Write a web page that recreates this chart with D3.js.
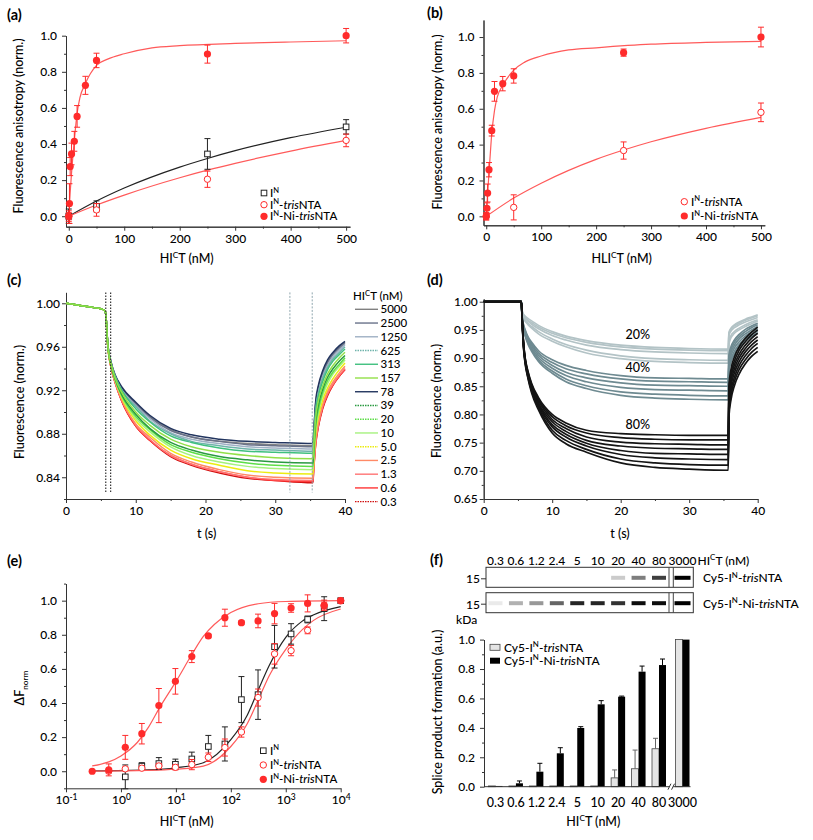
<!DOCTYPE html>
<html><head><meta charset="utf-8">
<script src="https://cdn.jsdelivr.net/npm/d3@7"></script>
<style>
body{margin:0;background:#fff}
svg text{font-family:Lato,"Open Sans",sans-serif;font-weight:500}
</style>
</head><body>
<svg id="fig" width="813" height="840"></svg>
<script>
// ---------------- DATA ----------------
// (a)
const aX_IN = [0, 50, 250, 500];
const aY_IN = [0.0, 0.055, 0.345, 0.495];
const aE_IN = [0.04, 0.03, 0.085, 0.04];
const aX_tris = [0, 50, 250, 500];
const aY_tris = [0.0, 0.035, 0.205, 0.42];
const aE_tris = [0.02, 0.035, 0.045, 0.035];
const aX_Ni = [0, 1.25, 2.5, 5, 10, 15, 30, 50, 250, 500];
const aY_Ni = [0.0, 0.07, 0.275, 0.345, 0.415, 0.553, 0.725, 0.863, 0.898, 1.0];
const aE_Ni = [0.03, 0.11, 0.05, 0.06, 0.055, 0.06, 0.05, 0.04, 0.05, 0.04];
const aFitNiX = [0, 2.5, 5, 10, 15, 20, 30, 50, 70, 100, 150, 200, 300, 400, 500];
const aFitNiY = [0, 0.13, 0.24, 0.42, 0.57, 0.655, 0.736, 0.836, 0.87, 0.90, 0.933, 0.945, 0.957, 0.965, 0.972];
const aFitX = [0, 50, 100, 200, 250, 300, 400, 500];
const aFitIN = [0, 0.084, 0.156, 0.272, 0.32, 0.363, 0.435, 0.493];
const aFitTris = [0, 0.062, 0.117, 0.213, 0.255, 0.293, 0.361, 0.42];
// (b)
const bX_tris = [0, 50, 250, 500];
const bY_tris = [0.0, 0.05, 0.367, 0.58];
const bE_tris = [0.02, 0.07, 0.048, 0.052];
const bX_Ni = [0, 1.25, 2.5, 5, 10, 15, 30, 50, 250, 500];
const bY_Ni = [0.0, 0.045, 0.13, 0.26, 0.478, 0.697, 0.74, 0.783, 0.913, 1.0];
const bE_Ni = [0.02, 0.03, 0.05, 0.04, 0.03, 0.055, 0.04, 0.04, 0.02, 0.055];
const bFitNiX = [0, 2.5, 5, 10, 15, 20, 30, 50, 70, 100, 150, 200, 300, 400, 500];
const bFitNiY = [0, 0.13, 0.24, 0.46, 0.59, 0.665, 0.73, 0.815, 0.86, 0.894, 0.928, 0.94, 0.96, 0.97, 0.976];
const bFitX = [0, 50, 100, 200, 250, 300, 400, 500];
const bFitTris = [0, 0.102, 0.185, 0.318, 0.37, 0.416, 0.491, 0.552];
// (c)
const cConc = ["5000","2500","1250","625","313","157","78","39","20","10","5.0","2.5","1.3","0.6","0.3"];
const cColors = ["#808080","#69728a","#9fb0c4","#6fb3ab","#3fc07e","#92e048","#22355f","#2a9a40","#5ede48","#a6f27e","#ecec10","#ff8a66","#ff7474","#ff3636","#d01010"];
const cDashed = [false,false,false,true,false,false,false,true,true,false,true,false,false,false,true];
const cDrawOrder = [14, 13, 12, 11, 0, 1, 2, 6, 3, 4, 10, 9, 8, 7, 5];
const cPreT = [0, 1, 2, 3, 4, 5, 5.6];
const cPreV = [1.000, 0.999, 0.998, 0.997, 0.996, 0.995, 0.993];
const cDecT = [5.7, 6.0, 6.5, 7, 8, 10, 12, 15, 18, 22, 26, 30, 35.4];
const cRiseT = [35.5, 35.8, 36.2, 36.8, 37.5, 38.3, 39.2, 40];
const cDecay = [
 [0.990,0.962,0.945,0.934,0.922,0.908,0.896,0.884,0.877,0.873,0.871,0.870,0.869],
 [0.990,0.962,0.944,0.934,0.922,0.907,0.895,0.883,0.877,0.873,0.870,0.869,0.868],
 [0.990,0.962,0.944,0.934,0.921,0.906,0.894,0.881,0.875,0.871,0.868,0.867,0.866],
 [0.990,0.962,0.944,0.934,0.920,0.905,0.892,0.880,0.873,0.869,0.866,0.865,0.864],
 [0.990,0.961,0.944,0.933,0.920,0.903,0.891,0.878,0.872,0.867,0.864,0.863,0.862],
 [0.990,0.961,0.943,0.932,0.918,0.900,0.888,0.875,0.868,0.863,0.860,0.858,0.857],
 [0.990,0.962,0.945,0.935,0.923,0.909,0.897,0.885,0.879,0.875,0.873,0.872,0.871],
 [0.990,0.961,0.942,0.931,0.916,0.898,0.885,0.872,0.865,0.859,0.856,0.854,0.853],
 [0.990,0.961,0.942,0.931,0.915,0.896,0.884,0.870,0.863,0.857,0.853,0.851,0.850],
 [0.990,0.961,0.942,0.930,0.914,0.894,0.882,0.868,0.860,0.854,0.850,0.848,0.847],
 [0.990,0.960,0.941,0.930,0.913,0.892,0.879,0.865,0.857,0.851,0.846,0.844,0.843],
 [0.990,0.960,0.941,0.929,0.911,0.889,0.877,0.862,0.854,0.847,0.842,0.840,0.839],
 [0.990,0.960,0.940,0.928,0.911,0.888,0.875,0.860,0.852,0.845,0.840,0.838,0.837],
 [0.990,0.960,0.940,0.928,0.910,0.887,0.874,0.860,0.852,0.845,0.840,0.837,0.836],
 [0.990,0.960,0.940,0.928,0.910,0.887,0.874,0.859,0.851,0.844,0.839,0.837,0.835]
];
const cRise = [
 [0.879,0.908,0.923,0.936,0.946,0.954,0.960,0.964],
 [0.878,0.907,0.922,0.935,0.945,0.953,0.959,0.963],
 [0.876,0.905,0.920,0.933,0.943,0.951,0.957,0.962],
 [0.874,0.903,0.918,0.931,0.941,0.949,0.955,0.960],
 [0.872,0.900,0.915,0.928,0.939,0.947,0.953,0.958],
 [0.867,0.895,0.911,0.924,0.935,0.943,0.950,0.955],
 [0.880,0.910,0.925,0.938,0.948,0.955,0.961,0.965],
 [0.863,0.891,0.907,0.921,0.932,0.940,0.947,0.952],
 [0.860,0.887,0.903,0.918,0.929,0.937,0.944,0.950],
 [0.857,0.884,0.900,0.915,0.926,0.935,0.942,0.948],
 [0.853,0.880,0.896,0.911,0.922,0.931,0.939,0.945],
 [0.849,0.875,0.891,0.907,0.919,0.928,0.936,0.942],
 [0.847,0.872,0.889,0.905,0.917,0.926,0.934,0.940],
 [0.846,0.871,0.888,0.904,0.916,0.925,0.933,0.939],
 [0.845,0.870,0.887,0.903,0.915,0.925,0.933,0.939]
];
const cMarksBlack = [5.7, 6.4];
const cMarksGrey = [32.1, 35.3];
// (d)
const dGroups = ["20%","40%","80%"];
const dColors = ["#b3c3c6","#6e8a91","#141414"];
const dPreT = [0, 5.5];
const dPreV = [1.0, 1.0];
const dDecT = [5.6, 5.8, 6.0, 6.5, 7, 8, 10, 12, 15, 20, 25, 30, 35.7];
const dRiseT = [35.8, 36.1, 36.6, 37.3, 38.2, 39.1, 40];
const d20Decay = [
 [0.985,0.978,0.975,0.970,0.966,0.958,0.947,0.939,0.931,0.923,0.919,0.917,0.916],
 [0.984,0.976,0.973,0.967,0.963,0.955,0.944,0.936,0.928,0.920,0.916,0.914,0.913],
 [0.983,0.974,0.971,0.965,0.960,0.952,0.940,0.932,0.923,0.915,0.911,0.909,0.908],
 [0.982,0.972,0.968,0.961,0.956,0.947,0.934,0.924,0.914,0.904,0.899,0.897,0.896],
 [0.981,0.970,0.966,0.959,0.953,0.943,0.930,0.920,0.909,0.899,0.894,0.892,0.891]];
const d20Rise = [
 [0.945,0.953,0.959,0.964,0.969,0.973,0.977],
 [0.943,0.951,0.957,0.962,0.967,0.971,0.975],
 [0.940,0.948,0.954,0.959,0.964,0.968,0.972],
 [0.930,0.940,0.947,0.953,0.959,0.964,0.968],
 [0.925,0.936,0.944,0.950,0.956,0.961,0.966]];
const d40Decay = [
 [0.975,0.960,0.952,0.937,0.928,0.913,0.897,0.887,0.878,0.869,0.865,0.864,0.863],
 [0.974,0.958,0.950,0.935,0.925,0.909,0.892,0.881,0.872,0.863,0.859,0.858,0.857],
 [0.973,0.956,0.948,0.932,0.922,0.905,0.887,0.875,0.865,0.856,0.852,0.851,0.850],
 [0.972,0.954,0.945,0.929,0.918,0.901,0.882,0.869,0.858,0.848,0.844,0.843,0.842],
 [0.971,0.952,0.943,0.926,0.915,0.897,0.877,0.863,0.851,0.840,0.836,0.834,0.833],
 [0.970,0.950,0.941,0.924,0.912,0.894,0.873,0.858,0.846,0.834,0.829,0.827,0.826]];
const d40Rise = [
 [0.905,0.920,0.932,0.942,0.951,0.957,0.962],
 [0.900,0.915,0.928,0.938,0.947,0.954,0.959],
 [0.894,0.910,0.923,0.934,0.943,0.950,0.956],
 [0.888,0.904,0.918,0.929,0.939,0.946,0.952],
 [0.882,0.898,0.912,0.924,0.934,0.942,0.948],
 [0.876,0.893,0.907,0.919,0.930,0.938,0.945]];
const d80Decay = [
 [0.975,0.930,0.905,0.875,0.855,0.830,0.800,0.785,0.772,0.766,0.764,0.763,0.763],
 [0.974,0.929,0.904,0.873,0.853,0.827,0.796,0.780,0.767,0.759,0.756,0.755,0.755],
 [0.973,0.928,0.902,0.871,0.850,0.824,0.791,0.775,0.760,0.751,0.748,0.747,0.746],
 [0.973,0.926,0.901,0.869,0.848,0.820,0.787,0.770,0.754,0.744,0.740,0.739,0.738],
 [0.972,0.925,0.900,0.868,0.846,0.818,0.782,0.765,0.749,0.736,0.731,0.730,0.729],
 [0.972,0.924,0.899,0.866,0.844,0.815,0.778,0.760,0.744,0.729,0.723,0.721,0.720],
 [0.971,0.922,0.897,0.864,0.841,0.812,0.772,0.754,0.738,0.721,0.714,0.711,0.710],
 [0.970,0.920,0.895,0.862,0.838,0.808,0.767,0.748,0.733,0.714,0.706,0.703,0.701]];
const d80Rise = [
 [0.850,0.880,0.902,0.920,0.935,0.946,0.955],
 [0.843,0.872,0.895,0.914,0.929,0.941,0.950],
 [0.835,0.865,0.888,0.907,0.923,0.935,0.944],
 [0.828,0.858,0.881,0.901,0.917,0.929,0.938],
 [0.820,0.850,0.874,0.894,0.911,0.923,0.932],
 [0.812,0.842,0.866,0.887,0.904,0.917,0.926],
 [0.804,0.834,0.859,0.880,0.897,0.910,0.919],
 [0.796,0.826,0.851,0.872,0.890,0.903,0.912]];
const dLabelT = [22.5, 22.5, 22.5];
const dLabelV = [0.942, 0.883, 0.782];
// (e)
const eX_Ni = [0.3, 0.6, 1.2, 2.4, 4.9, 9.8, 19.5, 39, 78, 156, 313, 625, 1250, 2500, 5000, 10000];
const eY_Ni = [0.0, 0.008, 0.14, 0.22, 0.385, 0.527, 0.672, 0.793, 0.9, 0.871, 0.881, 0.924, 0.957, 0.984, 0.971, 1.0];
const eE_Ni = [0, 0.035, 0.07, 0.06, 0.1, 0.075, 0.035, 0.01, 0.05, 0.01, 0.04, 0.06, 0.025, 0.05, 0.02, 0];
const eX_IN = [1.2, 2.4, 4.9, 9.8, 19.5, 39, 78, 156, 313, 625, 1250, 2500, 5000, 10000];
const eY_IN = [-0.033, 0.03, 0.045, 0.041, 0.072, 0.145, 0.16, 0.42, 0.449, 0.73, 0.805, 0.89, 0.953, 1.0];
const eE_IN = [0.07, 0.02, 0.035, 0.03, 0.04, 0.065, 0.1, 0.135, 0.145, 0.125, 0.06, 0.02, 0.07, 0];
const eX_tris = [0.6, 1.2, 2.4, 4.9, 9.8, 19.5, 39, 78, 156, 313, 625, 1250, 2500, 5000, 10000];
const eY_tris = [0.0, 0.014, 0.018, 0.031, 0.023, 0.039, 0.082, 0.139, 0.23, 0.432, 0.688, 0.707, 0.826, 0.973, 1.0];
const eE_tris = [0.01, 0.01, 0.01, 0.015, 0.015, 0.03, 0.025, 0.05, 0.03, 0.05, 0.06, 0.03, 0.02, 0.03, 0];
const eFitNiX = [0.3, 0.6, 1, 2, 3.2, 5, 10, 20, 31.6, 50, 100, 316, 1000, 10000];
const eFitNiY = [0.031, 0.055, 0.09, 0.17, 0.26, 0.37, 0.525, 0.69, 0.79, 0.86, 0.93, 0.982, 0.995, 1.0];
const eFitX = [0.3, 3, 10, 31.6, 100, 200, 316, 500, 1000, 2000, 3162, 10000];
const eFitIN = [0.002, 0.008, 0.02, 0.05, 0.185, 0.33, 0.477, 0.62, 0.785, 0.88, 0.916, 0.965];
const eFitTris = [0.001, 0.005, 0.012, 0.03, 0.145, 0.28, 0.418, 0.56, 0.715, 0.83, 0.883, 0.951];
// (f)
const fConc = ["0.3","0.6","1.2","2.4","5","10","20","40","80","3000"];
const fTris = [0.005, 0.005, 0.005, 0.005, 0.005, 0.005, 0.06, 0.122, 0.258, 1.0];
const fTrisErr = [0, 0, 0, 0, 0, 0, 0.054, 0.127, 0.071, 0];
const fNi = [0.005, 0.023, 0.102, 0.227, 0.399, 0.56, 0.612, 0.782, 0.827, 1.0];
const fNiErr = [0, 0.016, 0.057, 0.038, 0.009, 0.025, 0.004, 0.038, 0.041, 0];
const gelTris = [0, 0, 0, 0, 0, 0, 0.2, 0.5, 0.75, 1.0];
const gelNi = [0.08, 0.3, 0.4, 0.6, 0.85, 0.85, 0.8, 0.95, 0.95, 1.0];

// ---------------- HELPERS ----------------
const svg = d3.select('#fig');
const RED = '#ff2b2b', FITRED = '#ff5a5a', INK = '#000', AX = '#333';

function rich(parent, x, y, parts, size, anchor, weight) {
  const t = parent.append('text').attr('x', x).attr('y', y).attr('font-size', size)
    .attr('text-anchor', anchor || 'start').attr('fill', INK);
  if (weight) t.style('font-weight', weight);
  let cur = 0;
  parts.forEach(p => {
    const s = Array.isArray(p) ? p[0] : p, k = Array.isArray(p) ? p[1] : '';
    const ts = t.append('tspan').text(s);
    const off = k === 'sup' ? -size * 0.38 : k === 'sub' ? size * 0.28 : 0;
    if (off !== cur) ts.attr('dy', off - cur);
    cur = off;
    if (k === 'sup' || k === 'sub') ts.attr('font-size', size * 0.66);
    if (k === 'i') ts.attr('font-style', 'italic');
  });
  return t;
}
function vtitle(parent, cx, cy, parts, size) {
  const g = parent.append('g').attr('transform', `translate(${cx},${cy}) rotate(-90)`);
  rich(g, 0, 0, parts, size, 'middle');
}
function axes(g, x, y, o) {
  const yb = y.range()[0], xl = x.range()[0];
  const gx = g.append('g').attr('transform', `translate(0,${yb})`);
  if (o.xMinor) gx.append('g').call(d3.axisBottom(x).tickValues(o.xMinor).tickSize(2).tickSizeOuter(0).tickFormat(''));
  gx.append('g').call(d3.axisBottom(x).tickValues(o.xMajor).tickSize(4).tickSizeOuter(0).tickPadding(o.xPad ?? 3).tickFormat(o.xFmt || (d => d)));
  const gy = g.append('g').attr('transform', `translate(${xl},0)`);
  if (o.yMinor) gy.append('g').call(d3.axisLeft(y).tickValues(o.yMinor).tickSize(2).tickSizeOuter(0).tickFormat(''));
  gy.append('g').call(d3.axisLeft(y).tickValues(o.yMajor).tickSize(4).tickSizeOuter(0).tickPadding(o.yPad ?? 4).tickFormat(o.yFmt));
  g.selectAll('.domain').attr('stroke', AX).attr('stroke-width', 1);
  g.selectAll('.tick line').attr('stroke', AX);
  g.selectAll('.tick text').attr('font-size', o.fs || 11.5).attr('fill', INK);
  return {gx, gy};
}
function points(g, x, y, xs, ys, es, type, color) {
  const cap = 3;
  xs.forEach((xv, i) => {
    const px = x(xv);
    if (es && es[i] > 0) {
      const y1 = y(ys[i] - es[i]), y2 = y(ys[i] + es[i]);
      g.append('line').attr('x1', px).attr('x2', px).attr('y1', y1).attr('y2', y2).attr('stroke', color).attr('stroke-width', 1);
      [y1, y2].forEach(yy => g.append('line').attr('x1', px - cap).attr('x2', px + cap).attr('y1', yy).attr('y2', yy).attr('stroke', color).attr('stroke-width', 1));
    }
  });
  xs.forEach((xv, i) => {
    const px = x(xv), py = y(ys[i]);
    if (type === 'fc') g.append('circle').attr('cx', px).attr('cy', py).attr('r', 3.6).attr('fill', color);
    else if (type === 'oc') g.append('circle').attr('cx', px).attr('cy', py).attr('r', 3.2).attr('fill', '#fff').attr('stroke', color).attr('stroke-width', 1);
    else g.append('rect').attr('x', px - 2.8).attr('y', py - 2.8).attr('width', 5.6).attr('height', 5.6).attr('fill', '#fff').attr('stroke', color).attr('stroke-width', 1);
  });
}
function fit(g, x, y, xs, ys, color) {
  const line = d3.line().x(d => x(d[0])).y(d => y(d[1])).curve(d3.curveMonotoneX);
  g.append('path').attr('d', line(xs.map((v, i) => [v, ys[i]]))).attr('fill', 'none').attr('stroke', color).attr('stroke-width', 1.2);
}
function legendSym(g, x, y, type, color) {
  if (type === 'fc') g.append('circle').attr('cx', x).attr('cy', y).attr('r', 3.6).attr('fill', color);
  else if (type === 'oc') g.append('circle').attr('cx', x).attr('cy', y).attr('r', 3.2).attr('fill', '#fff').attr('stroke', color);
  else g.append('rect').attr('x', x - 2.8).attr('y', y - 2.8).attr('width', 5.6).attr('height', 5.6).attr('fill', '#fff').attr('stroke', color);
}
const HICT = ['HI', ['C', 'sup'], 'T (nM)'];
const lblIN = ['I', ['N', 'sup']];
const lblTris = ['I', ['N', 'sup'], '-', ['tris', 'i'], 'NTA'];
const lblNi = ['I', ['N', 'sup'], '-Ni-', ['tris', 'i'], 'NTA'];
const f1 = d3.format('.1f'), f2 = d3.format('.2f');
const range = (a, b, s) => d3.range(a, b + s / 2, s).map(v => +v.toFixed(4));

// ---------------- (a) ----------------
{
  const g = svg.append('g');
  const x = d3.scaleLinear().domain([-5, 507]).range([66, 350]);
  const y = d3.scaleLinear().domain([-0.058, 1.0]).range([226.7, 35.7]);
  axes(g, x, y, {xMajor: range(0, 500, 100), xMinor: range(50, 450, 100), yMajor: range(0, 1, 0.2), yMinor: range(0.1, 0.9, 0.2), yFmt: f1, yPad: 5, xPad: 3.5, fs: 12});
  fit(g, x, y, aFitX, aFitIN, '#222');
  fit(g, x, y, aFitX, aFitTris, FITRED);
  fit(g, x, y, aFitNiX, aFitNiY, FITRED);
  points(g, x, y, aX_IN, aY_IN, aE_IN, 'os', '#222');
  points(g, x, y, aX_tris, aY_tris, aE_tris, 'oc', RED);
  points(g, x, y, aX_Ni, aY_Ni, aE_Ni, 'fc', RED);
  rich(g, 7, 20, ['(a)'], 14.5, 'start', 'bold');
  rich(g, 186.7, 262.5, HICT, 12.5, 'middle');
  vtitle(g, 22.5, 126, ['Fluorescence anisotropy (norm.)'], 12.5);
  const ly = [193, 204.7, 216.3];
  legendSym(g, 264, ly[0], 'os', '#222'); rich(g, 270, ly[0] + 4, lblIN, 11.5);
  legendSym(g, 264, ly[1], 'oc', RED); rich(g, 270, ly[1] + 4, lblTris, 11.5);
  legendSym(g, 264, ly[2], 'fc', RED); rich(g, 270, ly[2] + 4, lblNi, 11.5);
}
// ---------------- (b) ----------------
{
  const g = svg.append('g');
  const x = d3.scaleLinear().domain([-5, 507]).range([483.5, 764.8]);
  const y = d3.scaleLinear().domain([-0.05, 1.095]).range([225.3, 20]);
  axes(g, x, y, {xMajor: range(0, 500, 100), xMinor: range(50, 450, 100), yMajor: range(0, 1, 0.2), yMinor: range(0.1, 0.9, 0.2), yFmt: f1, yPad: 5, xPad: 3.5, fs: 12});
  fit(g, x, y, bFitX, bFitTris, FITRED);
  fit(g, x, y, bFitNiX, bFitNiY, FITRED);
  points(g, x, y, bX_tris, bY_tris, bE_tris, 'oc', RED);
  points(g, x, y, bX_Ni, bY_Ni, bE_Ni, 'fc', RED);
  rich(g, 427, 18, ['(b)'], 14.5, 'start', 'bold');
  rich(g, 621.7, 262.5, ['HLI', ['C', 'sup'], 'T (nM)'], 12.5, 'middle');
  vtitle(g, 442, 122, ['Fluorescence anisotropy (norm.)'], 12.5);
  legendSym(g, 684.3, 201.7, 'oc', RED); rich(g, 691, 205.7, lblTris, 11.5);
  legendSym(g, 684.3, 216, 'fc', RED); rich(g, 691, 220, lblNi, 11.5);
}
// ---------------- (c) ----------------
{
  const g = svg.append('g');
  const x = d3.scaleLinear().domain([0, 40]).range([66, 345]);
  const y = d3.scaleLinear().domain([0.82, 1.01]).range([499, 292.4]);
  axes(g, x, y, {xMajor: range(0, 40, 10), xMinor: range(5, 35, 10), yMajor: range(0.84, 1.0, 0.04), yMinor: range(0.82, 0.98, 0.04), yFmt: f2, yPad: 2, xPad: 3.5, fs: 12});
  const line = d3.line().x(d => x(d[0])).y(d => y(d[1])).curve(d3.curveMonotoneX);
  const T = cPreT.concat(cDecT, cRiseT);
  cDrawOrder.forEach(i => {
    const V = cPreV.concat(cDecay[i], cRise[i]);
    g.append('path').attr('d', line(T.map((t, j) => [t, V[j]]))).attr('fill', 'none')
      .attr('stroke', cColors[i]).attr('stroke-width', 1.5);
  });
  cMarksBlack.forEach(t => g.append('line').attr('x1', x(t)).attr('x2', x(t)).attr('y1', y(1.01)).attr('y2', y(0.826))
    .attr('stroke', '#333').attr('stroke-width', 1.2).attr('stroke-dasharray', '1.5,1.5'));
  cMarksGrey.forEach(t => g.append('line').attr('x1', x(t)).attr('x2', x(t)).attr('y1', y(1.01)).attr('y2', y(0.826))
    .attr('stroke', '#8fa6ae').attr('stroke-width', 1).attr('stroke-dasharray', '2,1.5'));
  rich(g, 7, 285, ['(c)'], 14.5, 'start', 'bold');
  rich(g, 206.7, 537.5, ['t (s)'], 12.5, 'middle');
  vtitle(g, 24, 402, ['Fluorescence (norm.)'], 12.5);
  rich(g, 353, 300, HICT, 11.5);
  cConc.forEach((c, i) => {
    const yy = 309.3 + i * 13.74;
    const l = g.append('line').attr('x1', 355).attr('x2', 378).attr('y1', yy).attr('y2', yy).attr('stroke', cColors[i]).attr('stroke-width', 1.4);
    if (cDashed[i]) l.attr('stroke-dasharray', '1.5,1');
    rich(g, 380.5, yy + 4, [c], 11.5);
  });
}
// ---------------- (d) ----------------
{
  const g = svg.append('g');
  const x = d3.scaleLinear().domain([0, 40]).range([483.7, 757.7]);
  const y = d3.scaleLinear().domain([0.65, 1.005]).range([499, 298.9]);
  axes(g, x, y, {xMajor: range(0, 40, 10), xMinor: range(5, 35, 10), yMajor: range(0.65, 1.0, 0.05), yMinor: range(0.675, 0.975, 0.05), yFmt: f2, yPad: 2, xPad: 3.5, fs: 12});
  const line = d3.line().x(d => x(d[0])).y(d => y(d[1])).curve(d3.curveMonotoneX);
  const T = dPreT.concat(dDecT, dRiseT);
  [[d20Decay, d20Rise], [d40Decay, d40Rise], [d80Decay, d80Rise]].forEach(([dec, ris], gi) => {
    dec.forEach((dv, k) => {
      const V = dPreV.concat(dv, ris[k]);
      g.append('path').attr('d', line(T.map((t, j) => [t, V[j]]))).attr('fill', 'none')
        .attr('stroke', dColors[gi]).attr('stroke-width', 1.7);
    });
  });
  dGroups.forEach((s, i) => rich(g, x(dLabelT[i]), y(dLabelV[i]) + 4.5, [s], 12.5, 'middle'));
  rich(g, 427, 285, ['(d)'], 14.5, 'start', 'bold');
  rich(g, 620, 537.5, ['t (s)'], 12.5, 'middle');
  vtitle(g, 441, 401, ['Fluorescence (norm.)'], 12.5);
}
// ---------------- (e) ----------------
{
  const g = svg.append('g');
  const x = d3.scaleLog().domain([0.1, 10000]).range([66, 340.7]);
  const y = d3.scaleLinear().domain([-0.1, 1.1]).range([788.3, 583.6]);
  const {gx} = axes(g, x, y, {xMajor: [0.1, 1, 10, 100, 1000, 10000], yMajor: range(0, 1, 0.2), yMinor: range(-0.1, 1.1, 0.2), yFmt: f1, yPad: 5, xPad: 3.5, xFmt: d => '', fs: 12});
  gx.selectAll('.tick text').each(function(d) {
    const t = d3.select(this);
    t.append('tspan').text('10');
    t.append('tspan').text(Math.round(Math.log10(d))).attr('font-size', 8.5).attr('dy', -4.5);
  });
  fit(g, x, y, eFitX, eFitIN, '#222');
  fit(g, x, y, eFitX, eFitTris, FITRED);
  fit(g, x, y, eFitNiX, eFitNiY, FITRED);
  points(g, x, y, eX_IN, eY_IN, eE_IN, 'os', '#222');
  points(g, x, y, eX_tris, eY_tris, eE_tris, 'oc', RED);
  points(g, x, y, eX_Ni, eY_Ni, eE_Ni, 'fc', RED);
  rich(g, 7, 566, ['(e)'], 14.5, 'start', 'bold');
  rich(g, 186.7, 826, HICT, 12.5, 'middle');
  vtitle(g, 24, 688, ['ΔF', ['norm', 'sub']], 12.5);
  const ly = [750.7, 765, 779.3];
  legendSym(g, 263.3, ly[0], 'os', '#222'); rich(g, 270, ly[0] + 4, lblIN, 11.5);
  legendSym(g, 263.3, ly[1], 'oc', RED); rich(g, 270, ly[1] + 4, lblTris, 11.5);
  legendSym(g, 263.3, ly[2], 'fc', RED); rich(g, 270, ly[2] + 4, lblNi, 11.5);
}
// ---------------- (f) ----------------
{
  const g = svg.append('g');
  const xi = d3.scaleLinear().domain([0, 8]).range([495.5, 659]);
  const pos = i => xi(i < 9 ? i : 9.15);
  const y = d3.scaleLinear().domain([0, 1.0]).range([786.7, 639.6]);
  const defs = svg.append('defs');
  defs.append('filter').attr('id', 'blur').append('feGaussianBlur').attr('stdDeviation', 0.7);
  const gels = [[567.3, gelTris, ['Cy5-I', ['N', 'sup'], '-', ['tris', 'i'], 'NTA']], [592.7, gelNi, ['Cy5-I', ['N', 'sup'], '-Ni-', ['tris', 'i'], 'NTA']]];
  gels.forEach(([top, vals, lab]) => {
    g.append('rect').attr('x', 486).attr('y', top).attr('width', 207.3).attr('height', 20).attr('fill', '#fff').attr('stroke', '#333').attr('stroke-width', 1);
    const cy = top + 10.5;
    vals.forEach((v, i) => {
      if (v > 0) g.append('rect').attr('x', pos(i) - (i === 9 ? 8 : 7)).attr('y', cy - 2).attr('width', i === 9 ? 16 : 14).attr('height', 4)
        .attr('fill', '#000').attr('opacity', v).attr('filter', 'url(#blur)');
    });
    [669, 673.3].forEach(xx => g.append('line').attr('x1', xx).attr('x2', xx).attr('y1', top).attr('y2', top + 20).attr('stroke', '#444'));
    g.append('line').attr('x1', 481).attr('x2', 486).attr('y1', cy + 1).attr('y2', cy + 1).attr('stroke', '#333');
    rich(g, 480, cy + 5.5, ['15'], 12, 'end');
    rich(g, 703, cy + 4.5, lab, 12);
  });
  rich(g, 456, 624, ['kDa'], 12);
  fConc.forEach((c, i) => rich(g, pos(i), 564.5, [c], 12, 'middle'));
  rich(g, 697.5, 564.5, HICT, 12);
  const bw = 7;
  const gy = g.append('g').attr('transform', 'translate(484,0)');
  gy.append('g').call(d3.axisLeft(y).tickValues(range(0.1, 0.9, 0.2)).tickSize(2).tickSizeOuter(0).tickFormat(''));
  gy.append('g').call(d3.axisLeft(y).tickValues(range(0, 1, 0.2)).tickSize(4).tickSizeOuter(0).tickPadding(5).tickFormat(f1));
  gy.selectAll('.domain').attr('stroke', AX);
  gy.selectAll('.tick line').attr('stroke', AX);
  gy.selectAll('.tick text').attr('font-size', 12).attr('fill', INK);
  fConc.forEach((c, i) => {
    const cx = pos(i);
    g.append('rect').attr('x', cx - bw).attr('y', y(fTris[i])).attr('width', bw).attr('height', y(0) - y(fTris[i]))
      .attr('fill', '#e4e4e4').attr('stroke', '#444').attr('stroke-width', 0.8);
    g.append('rect').attr('x', cx).attr('y', y(fNi[i])).attr('width', bw).attr('height', y(0) - y(fNi[i]))
      .attr('fill', '#000');
    [[fTris, fTrisErr, cx - bw / 2, '#666'], [fNi, fNiErr, cx + bw / 2, '#000']].forEach(([vv, ee, ex, col]) => {
      if (ee[i] > 0) {
        g.append('line').attr('x1', ex).attr('x2', ex).attr('y1', y(vv[i])).attr('y2', y(vv[i] + ee[i])).attr('stroke', col);
        g.append('line').attr('x1', ex - 2.5).attr('x2', ex + 2.5).attr('y1', y(vv[i] + ee[i])).attr('y2', y(vv[i] + ee[i])).attr('stroke', col);
      }
    });
    rich(g, cx, 806.5, [c], 12.5, 'middle');
  });
  g.append('line').attr('x1', 484).attr('x2', pos(9) + bw + 1).attr('y1', y(0)).attr('y2', y(0)).attr('stroke', AX);
  const bx = (pos(8) + pos(9)) / 2 + 0.5;
  g.append('rect').attr('x', bx - 2).attr('y', y(0) - 3).attr('width', 4).attr('height', 6).attr('fill', '#fff');
  [-1.8, 1.8].forEach(o => g.append('line').attr('x1', bx + o - 1.5).attr('x2', bx + o + 1.5).attr('y1', y(0) + 3).attr('y2', y(0) - 3).attr('stroke', '#333'));
  g.append('rect').attr('x', 490).attr('y', 644.3).attr('width', 10).attr('height', 6).attr('fill', '#e4e4e4').attr('stroke', '#444').attr('stroke-width', 0.8);
  rich(g, 504, 651.5, ['Cy5-I', ['N', 'sup'], '-', ['tris', 'i'], 'NTA'], 12);
  g.append('rect').attr('x', 490).attr('y', 657.7).attr('width', 10).attr('height', 6).attr('fill', '#000');
  rich(g, 504, 665, ['Cy5-I', ['N', 'sup'], '-Ni-', ['tris', 'i'], 'NTA'], 12);
  rich(g, 430, 565, ['(f)'], 14.5, 'start', 'bold');
  rich(g, 593.3, 826, HICT, 12.5, 'middle');
  vtitle(g, 442, 712, ['Splice product formation (a.u.)'], 12.5);
}
</script>
</body></html>
